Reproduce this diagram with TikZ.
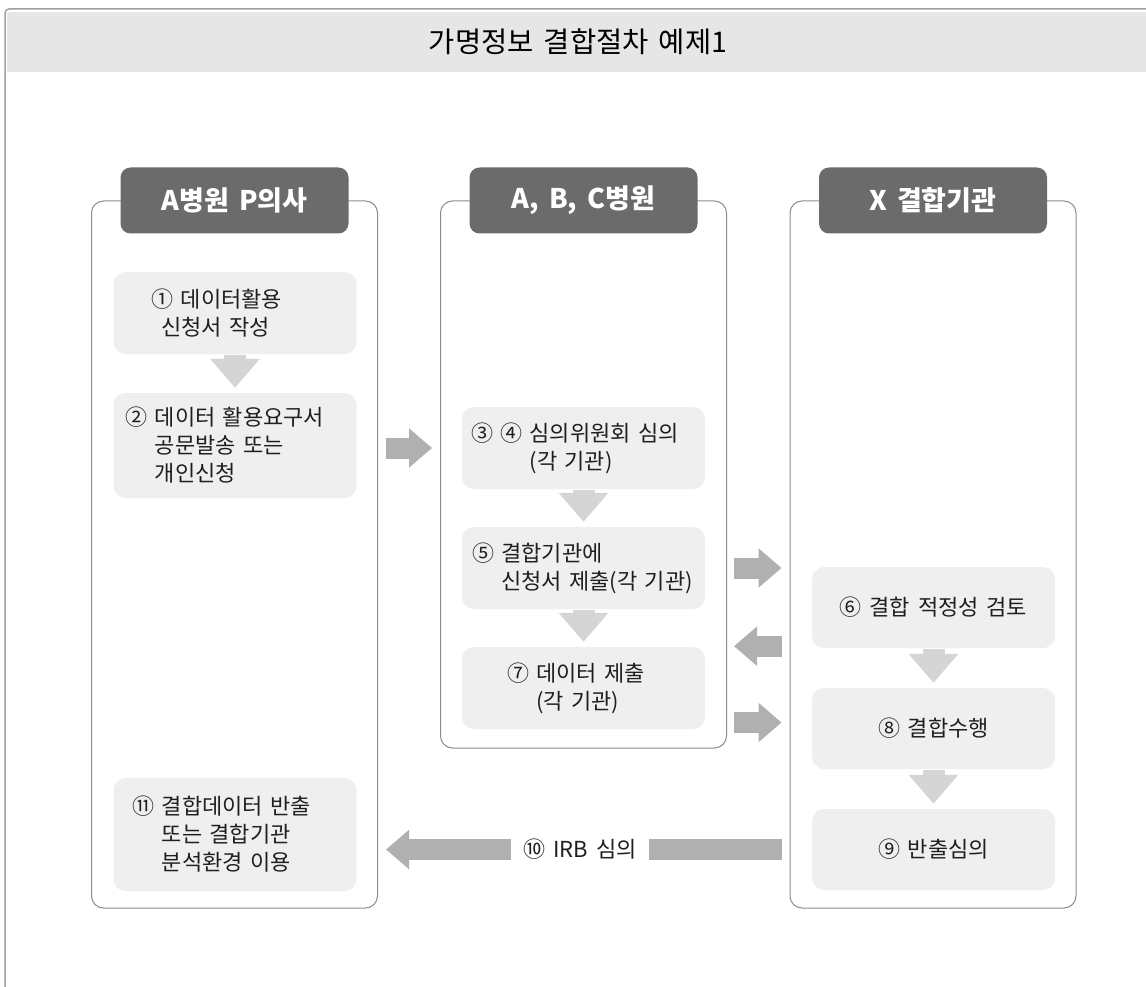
\documentclass[tikz,border=0pt]{standalone}
\usepackage{fontspec}
\setmainfont{Noto Sans CJK KR}[WordSpace=1.6]
\usetikzlibrary{arrows.meta}

\definecolor{framegray}{HTML}{A0A0A0}
\definecolor{lanegray}{HTML}{8C8C8C}
\definecolor{headgray}{HTML}{6B6B6B}
\definecolor{boxgray}{HTML}{EFEFEF}
\definecolor{titlegray}{HTML}{E6E6E6}
\definecolor{downgray}{HTML}{D5D5D5}
\definecolor{sidegray}{HTML}{B0B0B0}

\tikzset{
  lane/.style={draw=lanegray, line width=1pt, rounded corners=12pt, fill=white, minimum width=286pt},
  lanehead/.style={fill=headgray, rounded corners=10pt, minimum width=228pt, minimum height=66pt,
    text=white, font=\fontsize{27}{32}\selectfont\bfseries},
  stepbox/.style={fill=boxgray, rounded corners=12pt, minimum width=243pt, align=left,
    text=black!88, font=\fontsize{22}{28}\selectfont},
  downarrow/.style={draw=downgray, line width=22pt, -{Triangle[width=48pt,length=29pt]}},
  sidearrow/.style={draw=sidegray, line width=21pt, -{Triangle[width=38pt,length=23pt]}},
}

\begin{document}
\begin{tikzpicture}[x=1pt,y=-1pt]
  \clip (0,0) rectangle (1146,987);

  % title band
  \draw[framegray, line width=1.5pt, rounded corners=4pt] (5,1000) -- (5,9) -- (1160,9);
  \fill[titlegray] (7,12) rectangle (1150,72);
  \node[font=\fontsize{28.5}{32}\selectfont] (title) at (578,42) {가명정보 결합절차 예제1};

  % lanes
  \node[lane, minimum height=707pt] (colA) at (234.5,554.5) {};
  \node[lane, minimum height=547pt] (colB) at (583.5,474.5) {};
  \node[lane, minimum height=707pt] (colC) at (933,554.5) {};
  \node[lanehead] (headA) at (colA.north) {A병원 P의사};
  \node[lanehead] (headB) at (colB.north) {A, B, C병원};
  \node[lanehead] (headC) at (colC.north) {X 결합기관};

  % A hospital
  \node[stepbox, minimum height=82pt, inner xsep=38pt, text width=167pt] (s1) at (235,313)
    {① 데이터활용\\\hspace*{10pt}신청서 작성};
  \node[stepbox, minimum height=105pt, inner xsep=12pt, text width=219pt] (s2) at (235,445.5)
    {② 데이터 활용요구서\\\hphantom{② }공문발송 또는\\\hphantom{② }개인신청};
  \node[stepbox, minimum height=113pt, inner xsep=19pt, text width=205pt] (s11) at (235,834.5)
    {⑪ 결합데이터 반출\\\hphantom{⑪ }또는 결합기관\\\hphantom{⑪ }분석환경 이용};

  % A, B, C hospitals
  \node[stepbox, minimum height=82pt, inner xsep=9pt, text width=225pt] (s34) at (583.5,448)
    {③ ④ 심의위원회 심의\\\hphantom{③ ④ }(각 기관)};
  \node[stepbox, minimum height=82pt, inner xsep=10pt, text width=223pt] (s5) at (583.5,568)
    {⑤ 결합기관에\\\hphantom{⑤ }신청서 제출(각 기관)};
  \node[stepbox, minimum height=82pt, inner xsep=45pt, text width=153pt] (s7) at (583.5,688)
    {⑦ 데이터 제출\\\hphantom{⑦ }(각 기관)};

  % X agency
  \node[stepbox, minimum height=81pt] (s6) at (933.5,607.5) {⑥ 결합 적정성 검토};
  \node[stepbox, minimum height=81pt] (s8) at (933.5,728.5) {⑧ 결합수행};
  \node[stepbox, minimum height=81pt] (s9) at (933.5,849.5) {⑨ 반출심의};

  % flow inside lanes
  \draw[downarrow] ([yshift=-1pt]s1.south) -- ([yshift=5pt]s2.north);
  \draw[downarrow] ([yshift=-1pt]s34.south) -- ([yshift=5pt]s5.north);
  \draw[downarrow] ([yshift=-1pt]s5.south) -- ([yshift=5pt]s7.north);
  \draw[downarrow] ([yshift=-1pt]s6.south) -- ([yshift=5pt]s8.north);
  \draw[downarrow] ([yshift=-1pt]s8.south) -- ([yshift=5pt]s9.north);

  % flow between lanes
  \draw[sidearrow] ([xshift=8pt]colA.east |- s34) -- ([xshift=-8pt]colB.west |- s34);
  \draw[sidearrow] ([xshift=7pt]colB.east |- s5) -- ([xshift=-8pt]colC.west |- s5);
  \draw[sidearrow] ([xshift=-8pt,yshift=2pt]colC.west |- s6.south) -- ([xshift=7pt,yshift=2pt]colB.east |- s6.south);
  \draw[sidearrow] ([xshift=7pt,yshift=6pt]colB.east |- s8) -- ([xshift=-8pt,yshift=6pt]colC.west |- s8);
  \draw[sidearrow] ([xshift=-8pt]colC.west |- s9) -- ([xshift=8pt]colA.east |- s9);
  \node[fill=white, inner xsep=12pt, text=black!88, font=\fontsize{22}{26}\selectfont] (irb) at (580,849.5) {⑩ IRB 심의};
\end{tikzpicture}
\end{document}
